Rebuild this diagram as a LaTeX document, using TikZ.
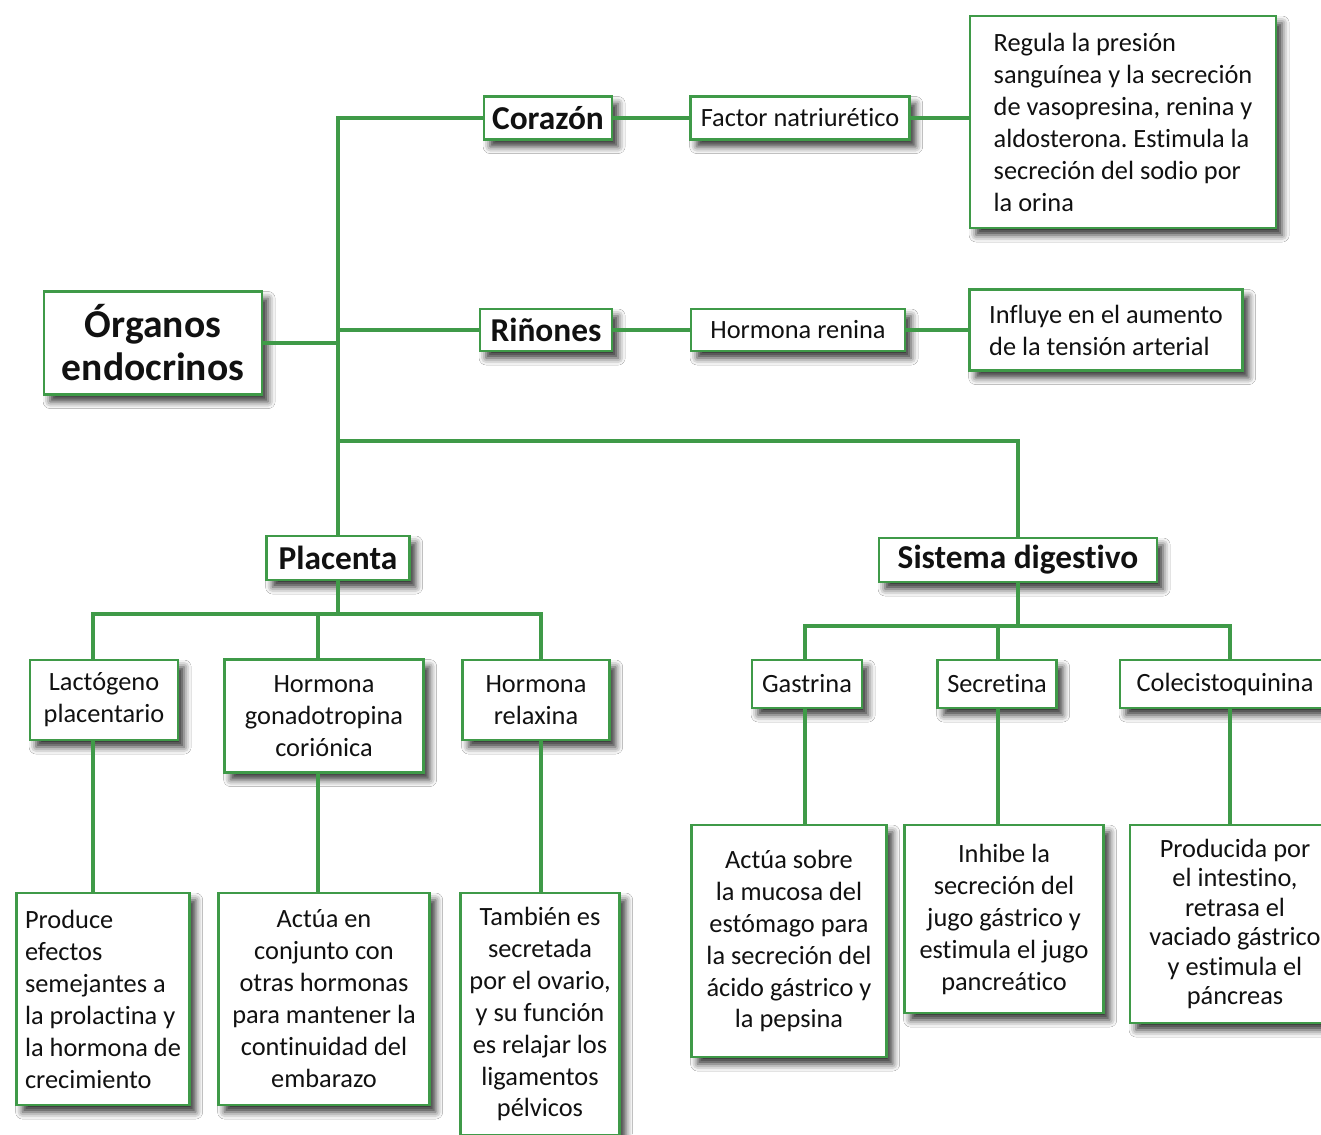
\documentclass[tikz,border=0pt]{standalone}
\usepackage{fontspec}
\setmainfont{Carlito}[Ligatures=NoCommon]
\frenchspacing
\usepackage{tikz}
\usetikzlibrary{shadows.blur}
\definecolor{leaf}{HTML}{3F9A48}
\definecolor{ink}{HTML}{111111}
\newcommand{\bodyfont}{\fontsize{15}{18.2}\selectfont}
\newcommand{\headfont}{\fontsize{19}{22}\selectfont\bfseries}
\newcommand{\rootfont}{\fontsize{22.5}{24.5}\selectfont\bfseries}
\def\px{0.02cm}
\tikzset{
  link/.style={draw=leaf, line width=2.5pt},
  box/.style={draw=leaf, line width=1.6pt, fill=white, inner sep=0pt,
    text=ink, font=\bodyfont, align=center,
    blur shadow={shadow xshift=3.5pt, shadow yshift=-4pt,
      shadow blur radius=4pt, shadow opacity=80}},
  head/.style={box, font=\headfont},
  sz/.style 2 args={minimum width=#1*\px, minimum height=#2*\px},
}

\begin{document}
\begin{tikzpicture}[x=0.02cm, y=-0.02cm]
  \fill[white] (0,0) rectangle (1321,1134);
  \useasboundingbox (0,0) rectangle (1321,1134);

  % root and upper branches
  \node[box, sz={218}{103}, font=\rootfont] (root) at (153,343) {Órganos\\endocrinos};
  \node[head, sz={128}{43}] (cor) at (548,118) {Corazón};
  \node[box, sz={219}{43}] (fac) at (800,118) {Factor natriurético};
  \node[box, sz={306}{212}, align=left] (reg) at (1123,122)
    {Regula la presión\\sanguínea y la secreción\\de vasopresina, renina y\\aldosterona. Estimula la\\secreción del sodio por\\la orina};
  \node[head, sz={132}{42}] (rin) at (546,330) {Riñones};
  \node[box, sz={214}{42}] (ren) at (798,330) {Hormona renina};
  \node[box, sz={273}{81}, align=left] (inf) at (1106,330)
    {Influye en el aumento\\de la tensión arterial};

  \node[head, sz={143}{44}] (plac) at (338,558) {Placenta};
  \node[head, sz={278}{44}] (sist) at (1018,560) {Sistema digestivo};

  % placenta
  \node[box, sz={148}{80}] (lact) at (104,700) {Lactógeno\\placentario};
  \node[box, sz={199}{113}] (gona) at (324,716) {Hormona\\gonadotropina\\coriónica};
  \node[box, sz={147}{80}] (relax) at (536,700) {Hormona\\relaxina};
  \node[box, sz={173}{212}, align=left] (prod) at (103,999)
    {Produce\\efectos\\semejantes a\\la prolactina y\\la hormona de\\crecimiento};
  \node[box, sz={211}{212}] (conj) at (324,999)
    {Actúa en\\conjunto con\\otras hormonas\\para mantener la\\continuidad del\\embarazo};
  \node[box, sz={159}{242}] (tamb) at (540,1014)
    {También es\\secretada\\por el ovario,\\y su función\\es relajar los\\ligamentos\\pélvicos};

  % digestive system
  \node[box, sz={110}{48}] (gast) at (807,684) {Gastrina};
  \node[box, sz={119}{48}] (secr) at (997,684) {Secretina};
  \node[box, sz={210}{48}] (cole) at (1225,684) {Colecistoquinina};
  \node[box, sz={195}{232}] (muc) at (789,941)
    {Actúa sobre\\la mucosa del\\estómago para\\la secreción del\\ácido gástrico y\\la pepsina};
  \node[box, sz={199}{188}] (inh) at (1004,919)
    {Inhibe la\\secreción del\\jugo gástrico y\\estimula el jugo\\pancreático};
  \node[box, sz={210}{198}, font=\fontsize{15}{16.8}\selectfont] (pan) at (1235,924)
    {Producida por\\el intestino,\\retrasa el\\vaciado gástrico\\y estimula el\\páncreas};

  % trunk
  \draw[link] (root.east) -- (root.east -| plac.north);
  \draw[link] (cor.west) -| (plac.north);
  \draw[link] (rin.west) -- (rin.west -| plac.north);
  \coordinate (dg) at (1018,441);
  \draw[link] (dg -| plac.north) -- (dg) -- (sist.north);
  \draw[link] (cor) -- (fac);
  \draw[link] (fac.east) -- (fac.east -| reg.west);
  \draw[link] (rin) -- (ren);
  \draw[link] (ren) -- (inf);

  % placenta bus
  \coordinate (p1) at (93,614);
  \coordinate (p2) at (318,614);
  \coordinate (p3) at (541,614);
  \draw[link] (plac.south) -- (plac.south |- p1);
  \draw[link] (p1 |- lact.north) -- (p1) -- (p3) -- (p3 |- relax.north);
  \draw[link] (p2) -- (p2 |- gona.north);
  \draw[link] (p1 |- lact.south) -- (p1 |- prod.north);
  \draw[link] (p2 |- gona.south) -- (p2 |- conj.north);
  \draw[link] (p3 |- relax.south) -- (p3 |- tamb.north);

  % digestive bus
  \coordinate (d1) at (805,626);
  \coordinate (d2) at (998,626);
  \coordinate (d3) at (1230,626);
  \draw[link] (sist.south) -- (sist.south |- d1);
  \draw[link] (d1 |- gast.north) -- (d1) -- (d3) -- (d3 |- cole.north);
  \draw[link] (d2) -- (d2 |- secr.north);
  \draw[link] (d1 |- gast.south) -- (d1 |- muc.north);
  \draw[link] (d2 |- secr.south) -- (d2 |- inh.north);
  \draw[link] (d3 |- cole.south) -- (d3 |- pan.north);
\end{tikzpicture}
\end{document}
